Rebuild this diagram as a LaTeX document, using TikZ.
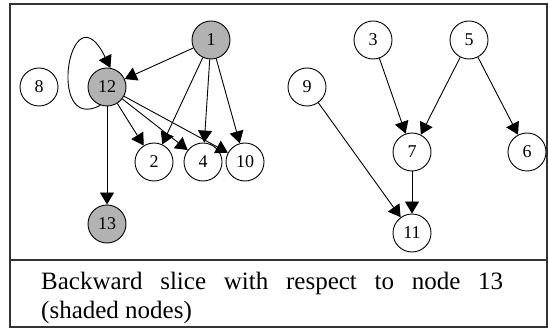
\documentclass[tikz,border=0pt]{standalone}
\usepackage{fontspec}
\setmainfont{Liberation Serif}
\usetikzlibrary{arrows.meta}
\begin{document}
\begin{tikzpicture}[x=1pt,y=-1pt,
  vert/.style={circle,draw,line width=0.9pt,minimum size=38pt,inner sep=0pt,
    font=\fontsize{18}{20}\selectfont},
  sliced/.style={vert,fill=black!30},
  edge/.style={line width=0.9pt,-{Triangle[length=12pt,width=14pt]}},
  frame/.style={line width=1.3pt,draw=black!80}]
\useasboundingbox (0,0) rectangle (548,328);
% outer frame and caption separator
\draw[frame] (10,4) rectangle (547,327);
\draw[frame] (10,260) -- (547,260);

% left component
\node[sliced] (n1)  at (211,40)  {1};
\node[sliced] (n12) at (107,87)  {12};
\node[vert]   (n8)  at (39,87)   {8};
\node[vert]   (n2)  at (154,162) {2};
\node[vert]   (n4)  at (203,162) {4};
\node[vert]   (n10) at (245,162) {10};
\node[sliced] (n13) at (107,224) {13};

% right component
\node[vert] (n3)  at (373,40)  {3};
\node[vert] (n5)  at (469,40)  {5};
\node[vert] (n9)  at (307,87)  {9};
\node[vert] (n7)  at (412,152) {7};
\node[vert] (n6)  at (527,152) {6};
\node[vert] (n11) at (412,233) {11};

\draw[edge] (n1) -- (n12);
\draw[edge] (n1) -- (n2);
\draw[edge] (n1) -- (n4);
\draw[edge] (n1) -- (n10);
\draw[edge] (n12.-110) .. controls (45,135) and (70,-15) .. (n12.80);
\draw[edge] (n12) -- (n2);
\draw[edge] (n12) -- (n4);
\draw[edge] (n12) -- (n10);
\draw[edge] (n12) -- (n13);

\draw[edge] (n3) -- (n7);
\draw[edge] (n5) -- (n7);
\draw[edge] (n5) -- (n6);
\draw[edge] (n9) -- (n11);
\draw[edge] (n7) -- (n11);

% caption
\node[anchor=north west,text width=462pt,align=justify,inner sep=0pt,
  font=\fontsize{25}{29}\selectfont] (cap) at (41,272)
  {\tolerance=10000\noindent Backward slice with respect to node 13\linebreak (shaded nodes)};
\end{tikzpicture}
\end{document}
